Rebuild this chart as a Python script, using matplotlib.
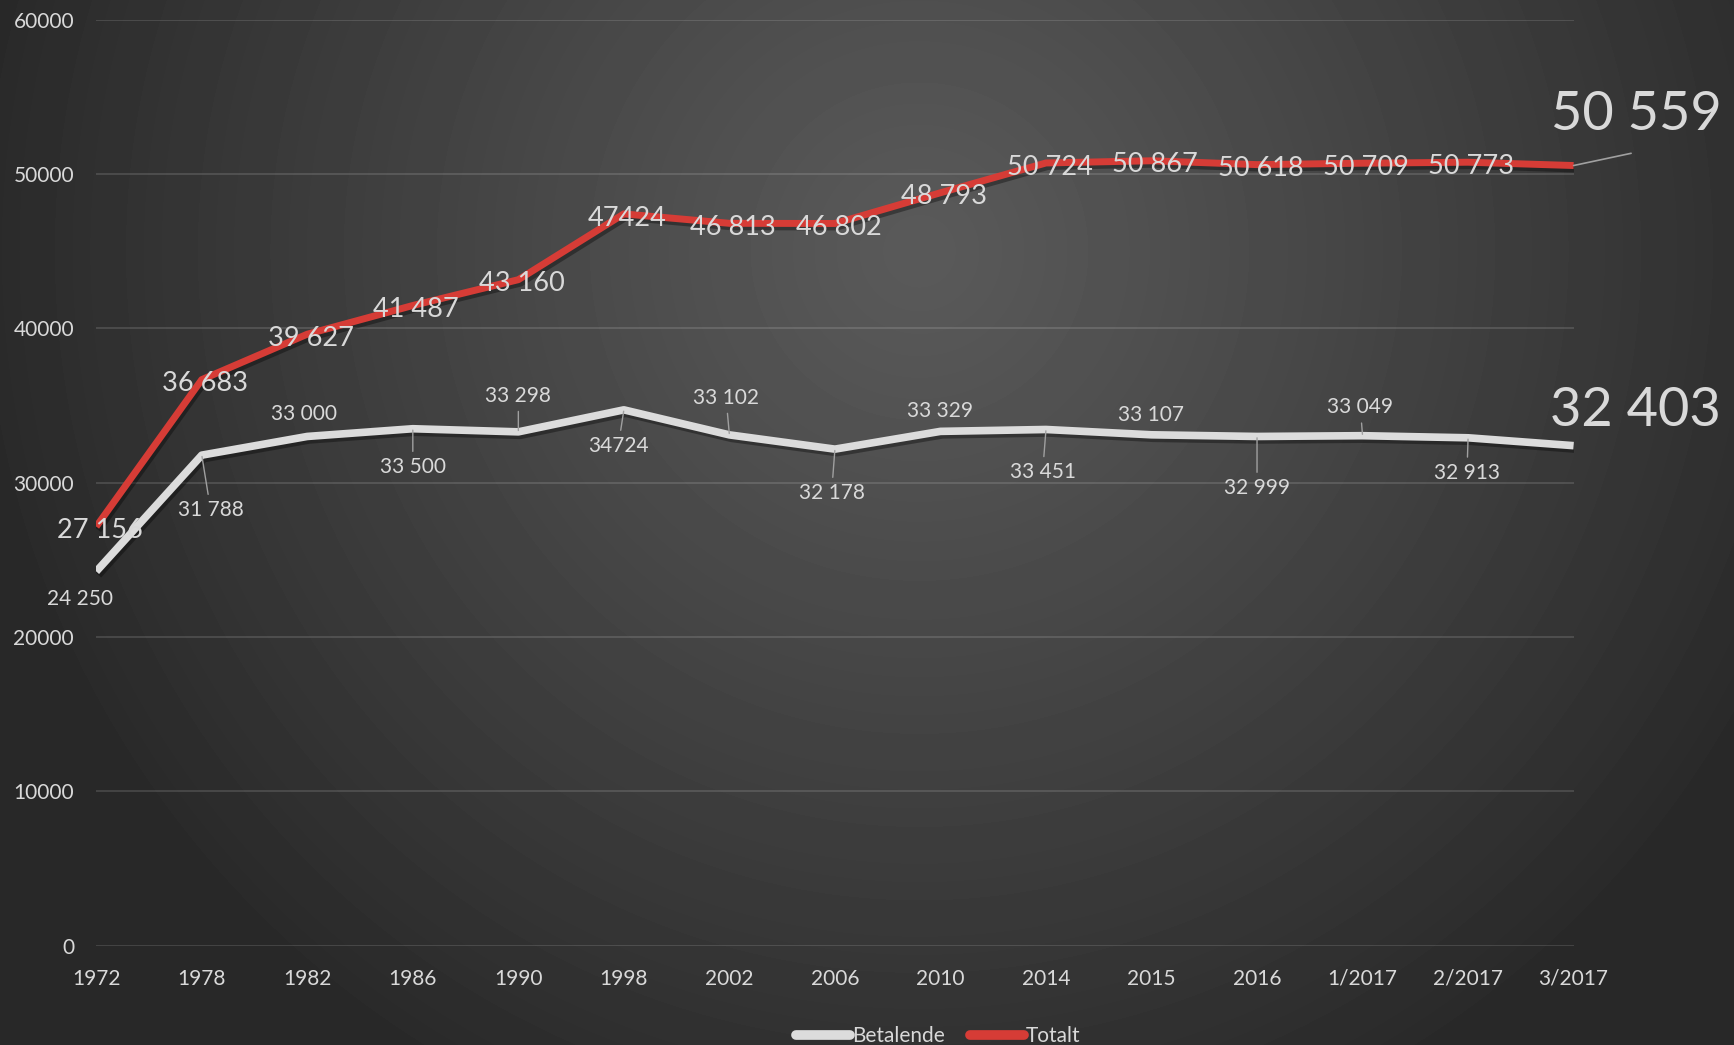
import numpy as np
import matplotlib
matplotlib.use("Agg")
import matplotlib.pyplot as plt
import matplotlib.patheffects as pe
from matplotlib.lines import Line2D

plt.rcParams['font.family'] = ['Lato', 'DejaVu Sans']

# data
categories = ["1972", "1978", "1982", "1986", "1990", "1998", "2002", "2006",
              "2010", "2014", "2015", "2016", "1/2017", "2/2017", "3/2017"]
betalende = [24250, 31788, 33000, 33500, 33298, 34724, 33102, 32178,
             33329, 33451, 33107, 32999, 33049, 32913, 32403]
totalt = [27156, 36683, 39627, 41487, 43160, 47424, 46813, 46802,
          48793, 50724, 50867, 50618, 50709, 50773, 50559]
betalende_labels = ["24 250", "31 788", "33 000", "33 500", "33 298", "34724", "33 102", "32 178",
                    "33 329", "33 451", "33 107", "32 999", "33 049", "32 913", "32 403"]
totalt_labels = ["27 156", "36 683", "39 627", "41 487", "43 160", "47424", "46 813", "46 802",
                 "48 793", "50 724", "50 867", "50 618", "50 709", "50 773", "50 559"]

RED = "#d63c36"
WHITE = "#dcdcdc"
TXT = "#d9d9d9"
LEAD = "#a0a0a0"

W, H = 1734, 1045
fig = plt.figure(figsize=(W / 100, H / 100), dpi=100)

# radial background
yy, xx = np.mgrid[0:H, 0:W]
r = np.hypot(xx - 0.53 * W, yy - 0.24 * H) / 950.0
r = np.clip(r, 0, 1)
v = (0x5a - (0x5a - 0x29) * r ** 1.1) / 255.0
fig.figimage(v, xo=0, yo=0, origin='upper', cmap='gray', vmin=0, vmax=1, zorder=-1)

ax = fig.add_axes([0.0555, 0.0951, 0.852, 0.8859])
ax.set_facecolor('none')
x = np.arange(len(categories))

shadow = [pe.SimpleLineShadow(offset=(1.5, -2.5), shadow_color='black', alpha=0.35), pe.Normal()]
ax.plot(x, betalende, color=WHITE, lw=5.5, solid_joinstyle='round', solid_capstyle='butt',
        path_effects=shadow, zorder=3)
ax.plot(x, totalt, color=RED, lw=5, solid_joinstyle='round', solid_capstyle='butt',
        path_effects=shadow, zorder=4)

ax.set_xlim(0, len(categories) - 1)
ax.set_ylim(0, 60000)
ax.set_yticks(range(0, 60001, 10000))
ax.set_yticklabels([str(t) for t in range(0, 60001, 10000)])
ax.set_xticks(x)
ax.set_xticklabels(categories)
ax.tick_params(axis='y', length=0, pad=16, labelsize=15, labelcolor=TXT)
ax.tick_params(axis='x', length=0, pad=16.5, labelsize=15, labelcolor=TXT)
for s in ax.spines.values():
    s.set_visible(False)
ax.grid(axis='y', color='white', alpha=0.13, lw=1.5)
ax.set_axisbelow(True)

# label offsets (points) for Betalende, and whether a leader line is drawn
w_off = [(-12, -19.5), (6.4, -39.4), (-2.4, 16.3), (0, -27.5), (0, 25.9), (-4, -25.9),
         (-2.4, 26.7), (-2.4, -31.5), (0, 14.7), (-2.4, -30.7), (0, 13.9), (0, -37),
         (-1.6, 20.3), (-0.8, -25.1), (44.6, 25.0)]
w_lead = [False, True, False, True, True, True, True, True, False, True, False, True,
          True, True, False]

for i, (val, lab) in enumerate(zip(betalende, betalende_labels)):
    big = i == len(betalende) - 1
    ap = dict(arrowstyle='-', color=LEAD, lw=1, shrinkA=2, shrinkB=1) if w_lead[i] else None
    ax.annotate(lab, (x[i], val), xytext=w_off[i], textcoords='offset points',
                ha='center', va='center', color=TXT, fontsize=39 if big else 15,
                arrowprops=ap, zorder=6, annotation_clip=False)

for i, (val, lab) in enumerate(zip(totalt, totalt_labels)):
    if i == len(totalt) - 1:
        ax.annotate(lab, (x[i], val), xytext=(45.4, 36.5), textcoords='offset points',
                    ha='center', va='center', color=TXT, fontsize=39, zorder=6,
                    annotation_clip=False)
        ax.annotate("", (x[i], val), xytext=(41.4, 8.8), textcoords='offset points',
                    arrowprops=dict(arrowstyle='-', color=LEAD, lw=1.2, shrinkA=0, shrinkB=0),
                    zorder=6, annotation_clip=False)
    else:
        ax.annotate(lab, (x[i], val), xytext=(2.5, -3), textcoords='offset points',
                    ha='center', va='center', color=TXT, fontsize=19.5, zorder=6,
                    annotation_clip=False)

handles = [Line2D([], [], color=WHITE, lw=7, solid_capstyle='round'),
           Line2D([], [], color=RED, lw=7, solid_capstyle='round')]
leg = fig.legend(handles, ["Betalende", "Totalt"], loc='center', bbox_to_anchor=(0.541, 0.0085),
                 ncol=2, frameon=False, handlelength=2.6, handletextpad=0.1,
                 columnspacing=1.2, fontsize=15)
for t in leg.get_texts():
    t.set_color(TXT)

fig.savefig("out.png", dpi=100)
